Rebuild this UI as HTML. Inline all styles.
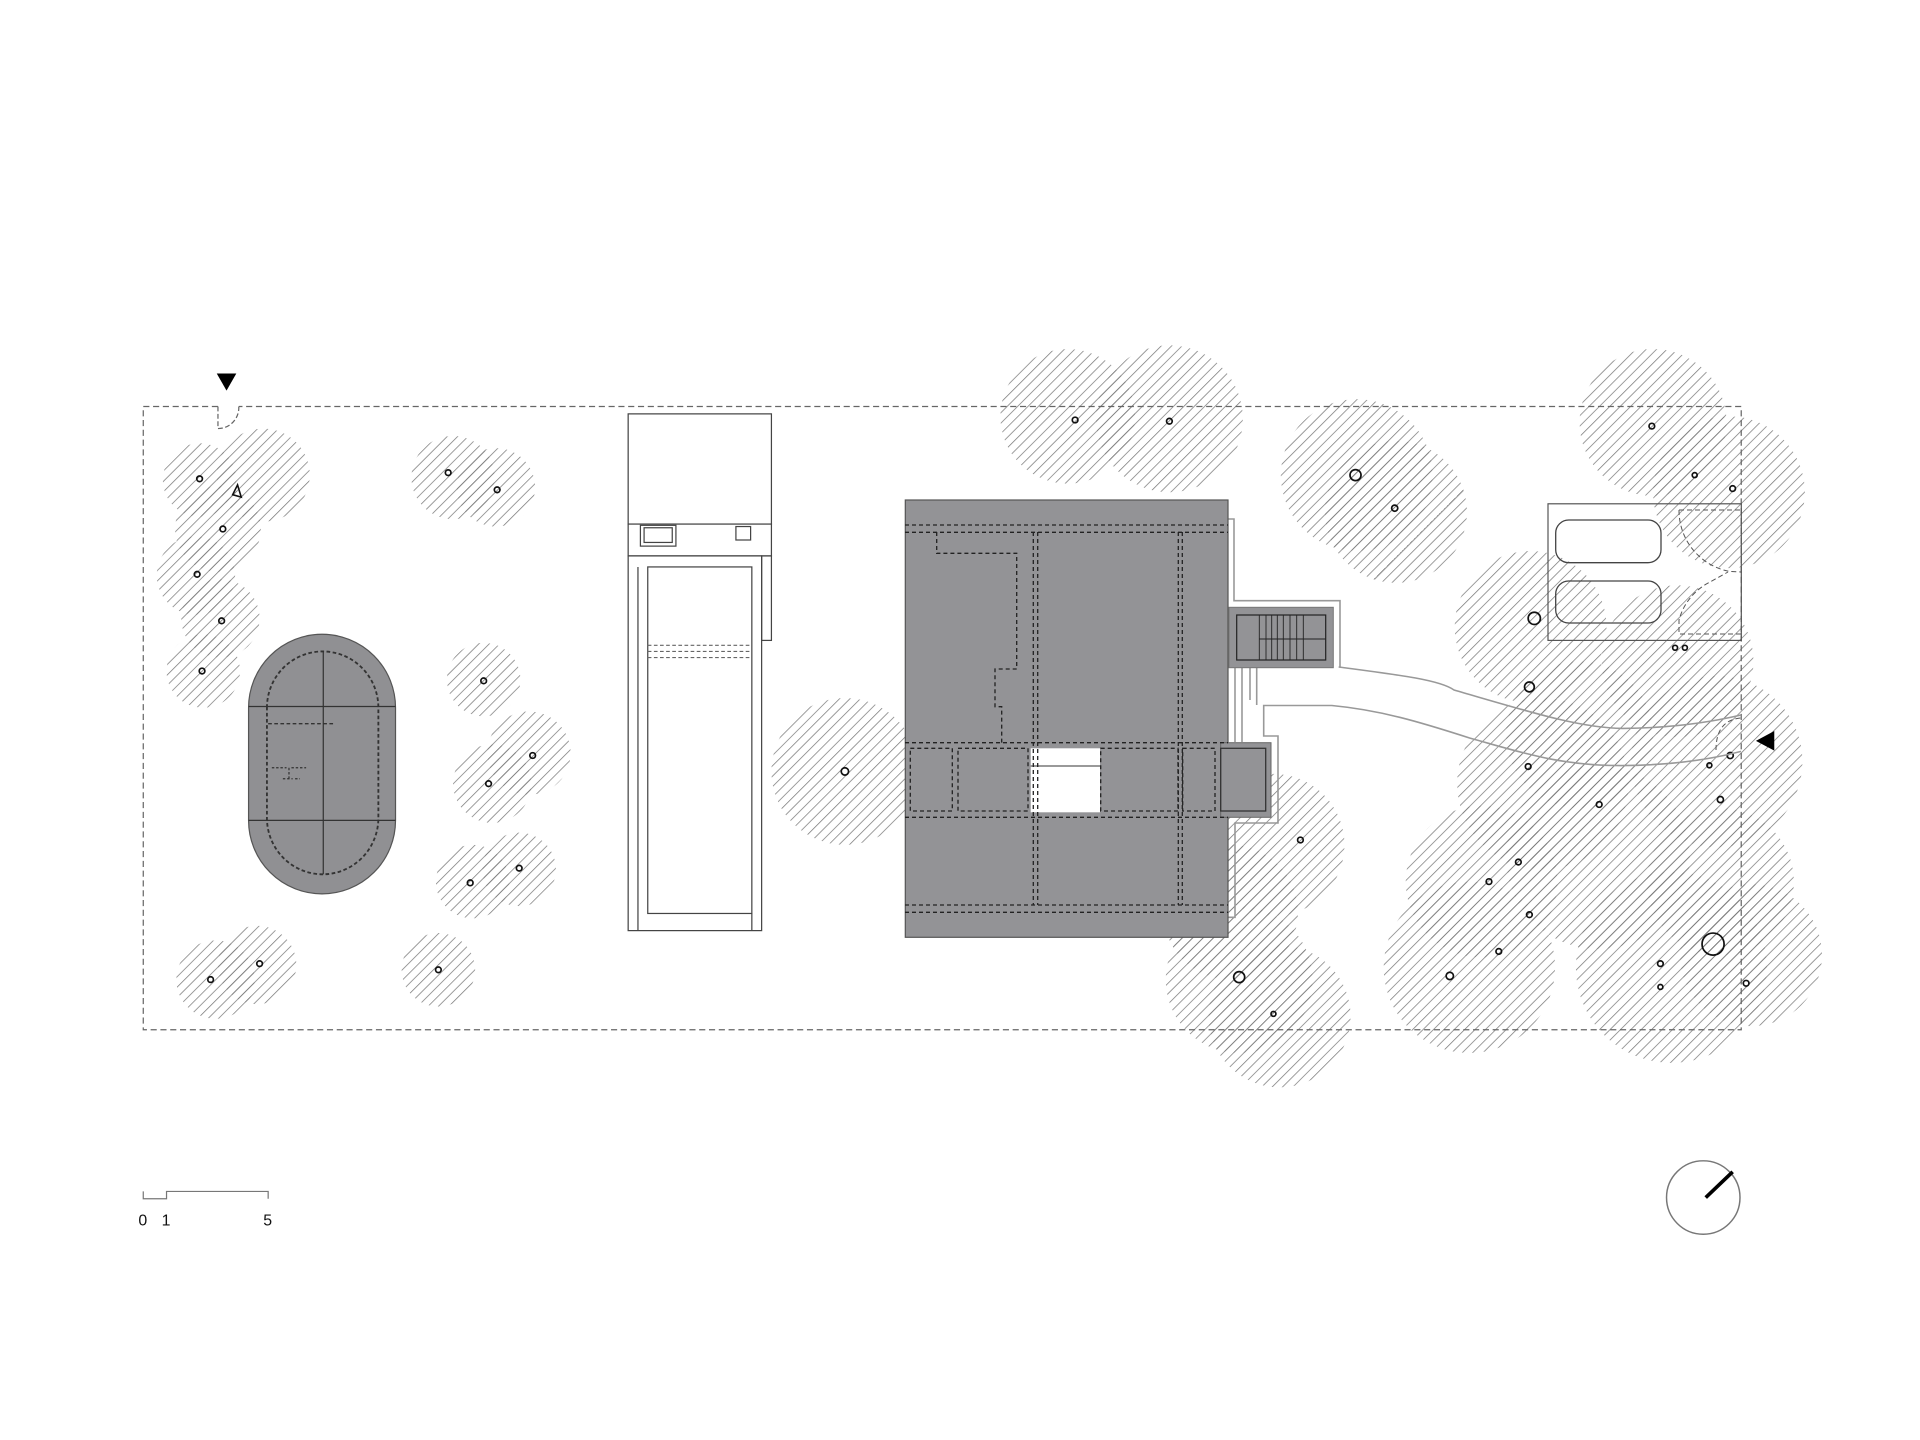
<!DOCTYPE html>
<html><head><meta charset="utf-8"><style>
html,body{margin:0;padding:0;background:#fff;}
svg{display:block;}
text{font-family:"Liberation Sans",sans-serif;}
</style></head><body>
<svg width="1920" height="1440" viewBox="0 0 1568 1176" xmlns="http://www.w3.org/2000/svg">
<defs>
<pattern id="h" patternUnits="userSpaceOnUse" width="6" height="6" patternTransform="rotate(45)">
<line x1="0" y1="0" x2="0" y2="6" stroke="#7a7a7a" stroke-width="1.2"/>
</pattern>
</defs>
<rect width="1568" height="1176" fill="#fff"/>
<g fill="url(#h)">
<circle cx="163" cy="392" r="30"/><circle cx="215" cy="388" r="38"/><circle cx="178" cy="432" r="35"/>
<circle cx="160" cy="470" r="32"/><circle cx="180" cy="505" r="32"/><circle cx="166" cy="548" r="30"/>
<circle cx="370" cy="390" r="34"/><circle cx="405" cy="398" r="32"/>
<circle cx="395" cy="555" r="30"/>
<circle cx="432" cy="615" r="34"/><circle cx="402" cy="640" r="32"/>
<circle cx="386" cy="720" r="30"/><circle cx="424" cy="710" r="30"/>
<circle cx="176" cy="800" r="32"/><circle cx="210" cy="788" r="32"/>
<circle cx="358" cy="792" r="30"/>
<circle cx="690" cy="630" r="60"/>
<circle cx="872" cy="340" r="55"/><circle cx="955" cy="342" r="60"/>
<circle cx="1108" cy="388" r="62"/><circle cx="1140" cy="418" r="58"/>
<circle cx="1350" cy="345" r="60"/><circle cx="1412" cy="402" r="62"/>
<circle cx="1250" cy="512" r="62"/><circle cx="1370" cy="540" r="62"/>
<circle cx="1260" cy="640" r="70"/><circle cx="1402" cy="622" r="70"/>
<circle cx="1210" cy="720" r="62"/><circle cx="1305" cy="700" r="75"/>
<circle cx="1405" cy="720" r="60"/><circle cx="1200" cy="790" r="70"/>
<circle cx="1365" cy="790" r="78"/><circle cx="1430" cy="780" r="58"/>
<circle cx="1290" cy="600" r="60"/>
<circle cx="1040" cy="690" r="58"/><circle cx="1005" cy="745" r="55"/>
<circle cx="1012" cy="800" r="60"/><circle cx="1045" cy="830" r="58"/>
</g>
<path d="M178 332 H117 V841 H1422 V332 H195" fill="none" stroke="#666" stroke-width="1" stroke-dasharray="5,3"/>
<path d="M178 332 V350 A17 17 0 0 0 195 332" fill="none" stroke="#666" stroke-width="1" stroke-dasharray="4,2"/>
<polygon points="177,305 193,305 185,319" fill="#000"/>
<polygon points="1434,605 1449,597 1449,613" fill="#000"/>
<path d="M203 578 A60 60 0 0 1 323 578 V670 A60 60 0 0 1 203 670 Z" fill="#909093" stroke="#555" stroke-width="1"/>
<path d="M218 578 A45.5 46 0 0 1 309 578 V668 A45.5 46 0 0 1 218 668 Z" fill="none" stroke="#333" stroke-width="1.5" stroke-dasharray="3,2"/>
<line x1="203" y1="577" x2="323" y2="577" stroke="#333" stroke-width="1"/>
<line x1="203" y1="670" x2="323" y2="670" stroke="#333" stroke-width="1"/>
<line x1="264" y1="532" x2="264" y2="714" stroke="#333" stroke-width="1"/>
<line x1="219" y1="591" x2="273" y2="591" stroke="#333" stroke-width="1.2" stroke-dasharray="3,2"/>
<path d="M222 627 h12 M238 627 h12 M236 627 v10 M231 636 h8 M241 636 h4" stroke="#333" stroke-width="1" stroke-dasharray="2,1.5" fill="none"/>
<g fill="none" stroke="#444" stroke-width="1">
<rect x="513" y="338" width="117" height="90" fill="#fff"/>
<rect x="513" y="428" width="117" height="26" fill="#fff"/>
<rect x="523" y="429" width="29" height="17"/><rect x="526" y="431" width="23" height="12"/>
<rect x="601" y="430" width="12" height="11"/>
<rect x="513" y="454" width="109" height="306" fill="#fff"/>
<line x1="521" y1="463" x2="521" y2="760"/>
<rect x="529" y="463" width="85" height="283"/>
<line x1="614" y1="746" x2="614" y2="760"/>
<rect x="622" y="454" width="8" height="69"/>
<g stroke-dasharray="3,2" stroke="#666"><line x1="529" y1="527" x2="614" y2="527"/><line x1="529" y1="532" x2="614" y2="532"/><line x1="529" y1="537" x2="614" y2="537"/></g>
</g>
<g fill="none" stroke="#111" stroke-width="1.4">
<circle cx="163" cy="391" r="2.3"/><circle cx="182" cy="432" r="2.3"/><circle cx="161" cy="469" r="2.3"/>
<circle cx="181" cy="507" r="2.3"/><circle cx="165" cy="548" r="2.3"/><circle cx="366" cy="386" r="2.3"/>
<circle cx="406" cy="400" r="2.3"/><circle cx="395" cy="556" r="2.3"/><circle cx="435" cy="617" r="2.3"/>
<circle cx="399" cy="640" r="2.3"/><circle cx="384" cy="721" r="2.3"/><circle cx="424" cy="709" r="2.3"/>
<circle cx="172" cy="800" r="2.3"/><circle cx="212" cy="787" r="2.3"/><circle cx="358" cy="792" r="2.3"/>
<circle cx="690" cy="630" r="3"/><circle cx="878" cy="343" r="2.3"/><circle cx="955" cy="344" r="2.3"/>
<circle cx="1107" cy="388" r="4.5"/><circle cx="1139" cy="415" r="2.5"/><circle cx="1349" cy="348" r="2.3"/>
<circle cx="1415" cy="399" r="2.3"/><circle cx="1253" cy="505" r="5"/><circle cx="1368" cy="529" r="2"/>
<circle cx="1376" cy="529" r="2"/><circle cx="1384" cy="388" r="2"/><circle cx="1249" cy="561" r="4"/>
<circle cx="1248" cy="626" r="2.3"/><circle cx="1306" cy="657" r="2.3"/><circle cx="1405" cy="653" r="2.5"/>
<circle cx="1396" cy="625" r="2"/><circle cx="1413" cy="617" r="2.5"/><circle cx="1062" cy="686" r="2.3"/>
<circle cx="1216" cy="720" r="2.3"/><circle cx="1240" cy="704" r="2.3"/><circle cx="1249" cy="747" r="2.3"/>
<circle cx="1224" cy="777" r="2.3"/><circle cx="1184" cy="797" r="3"/><circle cx="1356" cy="787" r="2.3"/>
<circle cx="1356" cy="806" r="2"/><circle cx="1426" cy="803" r="2.3"/><circle cx="1399" cy="771" r="9"/>
<circle cx="1012" cy="798" r="4.5"/><circle cx="1040" cy="828" r="2"/>
</g>
<path d="M190 404 L194 396 L197 406 Z" fill="none" stroke="#111" stroke-width="1.3"/>
<g transform="scale(0.816667)">
<g fill="none" stroke="#999" stroke-width="1.6">
<path d="M1228 519 H1234 V600.7 H1340 V667 H1338.7 C1400 675 1440 680 1454 690 C1530 712 1580 728 1622.7 728.4 C1680 728 1720 720 1741 715"/>
<path d="M1741 751.4 C1720 757 1680 765 1622.7 765.6 C1560 766 1520 752 1469.6 738 C1420 722 1380 710 1331.8 705.5 H1263.7 V736 H1278 V823 H1235 V917.3 H1228"/>
<path d="M1235 667 V742 M1242 667 V742 M1250 667 V700 M1256.7 667 V705"/>
</g>
<rect x="905.3" y="500" width="322.7" height="437.3" fill="#939396" stroke="#555" stroke-width="1.2"/>
<rect x="1220.7" y="742.7" width="50.3" height="74.6" fill="#939396" stroke="#666" stroke-width="1"/>
<rect x="1220.7" y="748.3" width="45" height="62.7" fill="none" stroke="#333" stroke-width="1.3"/>
<rect x="1229" y="607.3" width="104.3" height="60.4" fill="#939396" stroke="#777" stroke-width="1"/>
<rect x="1236.7" y="615" width="89" height="45" fill="none" stroke="#222" stroke-width="1.2"/>
<g stroke="#222" stroke-width="0.9">
<line x1="1259.3" y1="615" x2="1259.3" y2="660"/><line x1="1266" y1="615" x2="1266" y2="660"/>
<line x1="1271.7" y1="615" x2="1271.7" y2="660"/><line x1="1277.3" y1="615" x2="1277.3" y2="660"/>
<line x1="1283.3" y1="615" x2="1283.3" y2="660"/><line x1="1290" y1="615" x2="1290" y2="660"/>
<line x1="1296.7" y1="615" x2="1296.7" y2="660"/><line x1="1303.3" y1="615" x2="1303.3" y2="660"/>
<line x1="1259.3" y1="639" x2="1325.7" y2="639"/>
</g>
<rect x="1030.7" y="748.3" width="69.3" height="64" fill="#fff"/>
<line x1="1030.7" y1="766" x2="1100" y2="766" stroke="#333" stroke-width="1"/>
<g fill="none" stroke="#222" stroke-width="1.3" stroke-dasharray="4,3">
<line x1="905" y1="525" x2="1228" y2="525"/><line x1="905" y1="532.3" x2="1228" y2="532.3"/>
<line x1="905" y1="905" x2="1228" y2="905"/><line x1="905" y1="912.3" x2="1228" y2="912.3"/>
<line x1="905" y1="742.7" x2="1228" y2="742.7"/><line x1="905" y1="817.3" x2="1228" y2="817.3"/>
<line x1="1033.3" y1="532" x2="1033.3" y2="905"/><line x1="1037.7" y1="532" x2="1037.7" y2="905"/>
<line x1="1178.3" y1="532" x2="1178.3" y2="905"/><line x1="1182.3" y1="532" x2="1182.3" y2="905"/>
<rect x="910.3" y="748.3" width="42" height="62.7"/><rect x="958" y="748.3" width="70" height="62.7"/>
<rect x="1100.7" y="748.3" width="77.3" height="62.7"/><rect x="1182.7" y="748.3" width="32.3" height="62.7"/>
<path d="M936.7 532 V553.3 H1016.7 V669 H995 V706.7 H1001.7 V742.7"/>
</g>
<rect x="1548" y="503.8" width="193.3" height="136.6" fill="none" stroke="#555" stroke-width="1.2"/>
<rect x="1555.7" y="520" width="105.3" height="42.7" rx="13" fill="none" stroke="#444" stroke-width="1.3"/>
<rect x="1555.7" y="581" width="105.3" height="42" rx="13" fill="none" stroke="#444" stroke-width="1.3"/>
<g fill="none" stroke="#555" stroke-width="1" stroke-dasharray="5,3">
<path d="M1679 510 H1741 M1679 510 A62 62 0 0 0 1730 571.5 L1741 572"/>
<path d="M1741 634 H1679 V620 A60 60 0 0 1 1710 582 L1728 572"/>
<path d="M1716 750 Q1716 720 1741 718"/>
</g>
</g>
<path d="M117 973 V979 H136 V973 H219 V979" fill="none" stroke="#777" stroke-width="1"/>
<text x="113" y="1001" font-size="13" fill="#111">0</text>
<text x="132" y="1001" font-size="13" fill="#111">1</text>
<text x="215" y="1001" font-size="13" fill="#111">5</text>
<circle cx="1391" cy="978" r="30" fill="none" stroke="#777" stroke-width="1.2"/>
<line x1="1393" y1="978" x2="1415" y2="957" stroke="#000" stroke-width="3"/>
</svg>
</body></html>
